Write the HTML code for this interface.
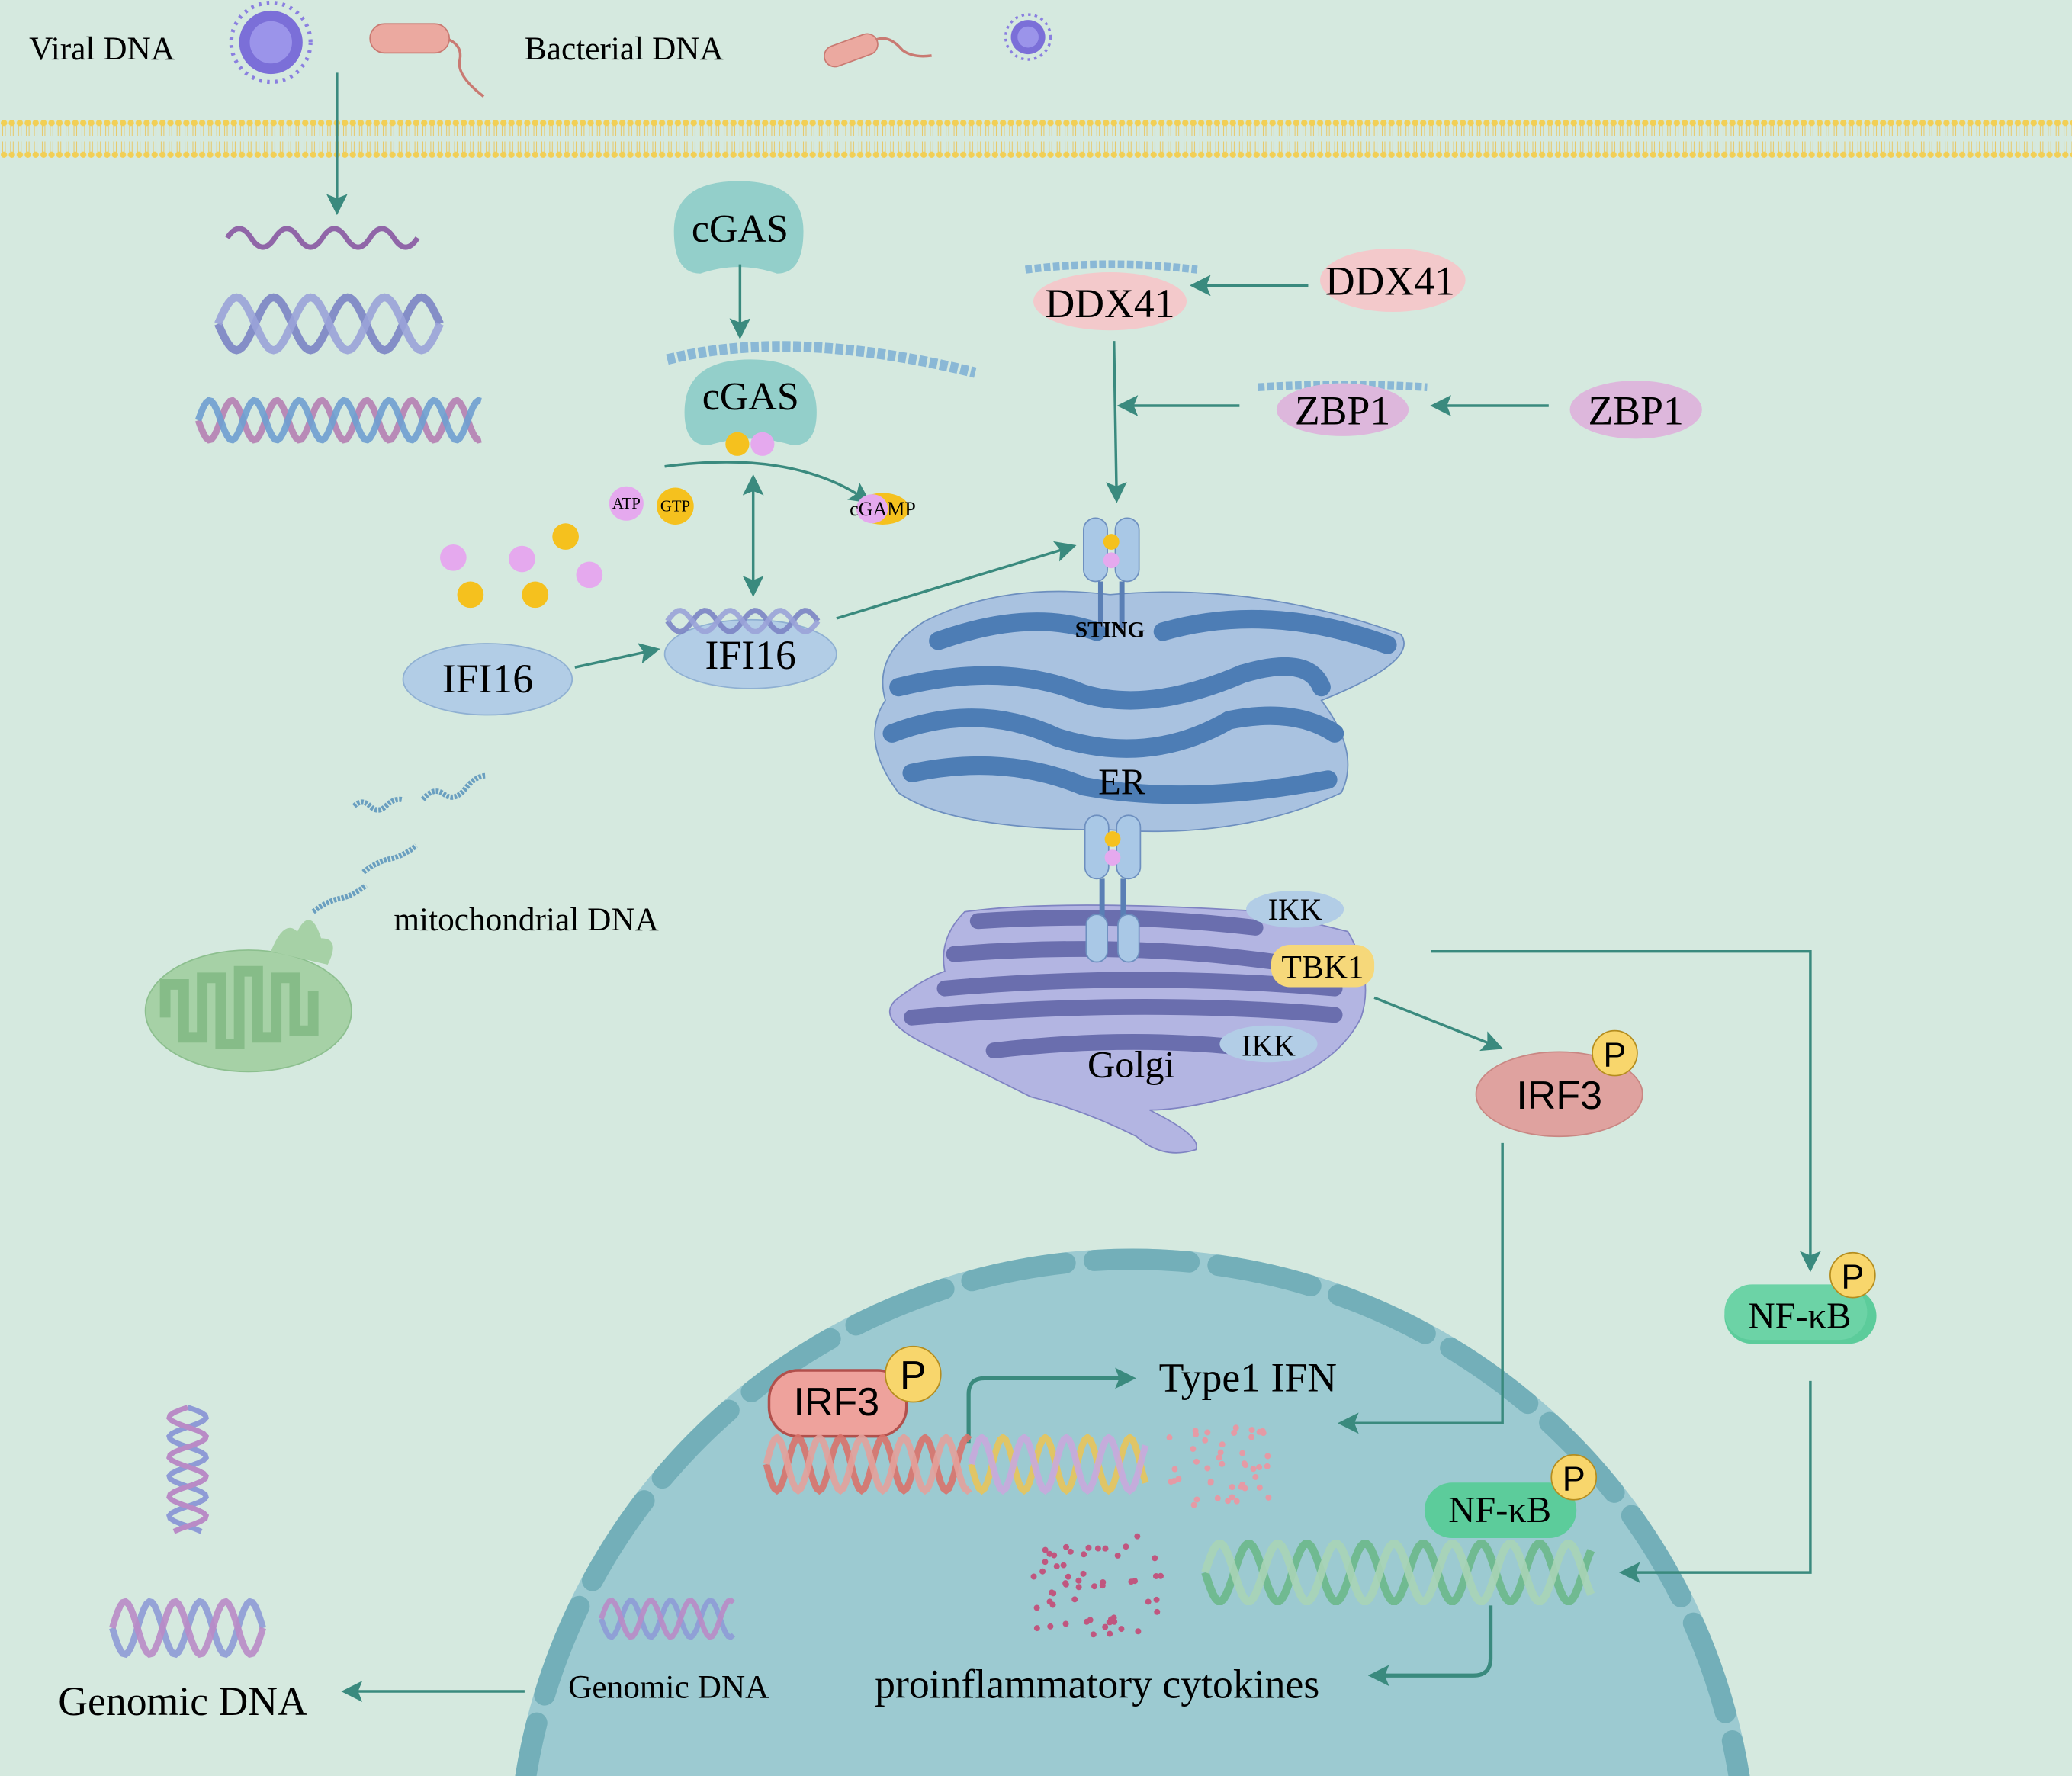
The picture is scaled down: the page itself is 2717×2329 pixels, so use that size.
<!DOCTYPE html>
<html><head><meta charset="utf-8"><style>
html,body{margin:0;padding:0;background:#d5e9df;overflow:hidden;width:2717px;height:2329px;}
svg{display:block;font-family:"Liberation Serif",serif;}
</style></head><body>
<svg id="s" width="2717" height="2329" viewBox="0 0 1568 1344" xmlns="http://www.w3.org/2000/svg">
<defs>
<marker id="ab" viewBox="0 0 10 10" markerWidth="16" markerHeight="16" refX="7" refY="5" orient="auto" markerUnits="userSpaceOnUse"><path d="M0,0 L10,5 L0,10 L2,5 Z" fill="#3a8a7e"/></marker>
<marker id="as" viewBox="0 0 10 10" markerWidth="16" markerHeight="16" refX="3" refY="5" orient="auto-start-reverse" markerUnits="userSpaceOnUse"><path d="M0,0 L10,5 L0,10 L2,5 Z" fill="#3a8a7e"/></marker>
<pattern id="mem" width="6" height="30" patternUnits="userSpaceOnUse"><circle cx="3" cy="3" r="2.4" fill="#f2cf55"/><circle cx="3" cy="27" r="2.4" fill="#f2cf55"/><line x1="2" y1="5" x2="2" y2="13" stroke="#e7c96a" stroke-width="0.6"/><line x1="4" y1="5" x2="4" y2="13" stroke="#e7c96a" stroke-width="0.6"/><line x1="2" y1="17" x2="2" y2="25" stroke="#e7c96a" stroke-width="0.6"/><line x1="4" y1="17" x2="4" y2="25" stroke="#e7c96a" stroke-width="0.6"/></pattern>
</defs>
<rect width="1568" height="1344" fill="#d5e9df"/>
<rect x="0" y="90" width="1568" height="30" fill="url(#mem)"/>

<!-- nucleus -->
<circle cx="857" cy="1418" r="473" fill="#9ccad1"/>
<circle cx="857" cy="1418" r="465" fill="none" stroke="#73afb9" stroke-width="16" stroke-dasharray="72 22" stroke-linecap="round"/>

<!-- top labels -->
<text x="22" y="45" font-size="25">Viral DNA</text>
<text x="397" y="45" font-size="25">Bacterial DNA</text>
<circle cx="205" cy="32" r="30" fill="none" stroke="#8a7fe0" stroke-width="3" stroke-dasharray="2 4"/>
<circle cx="205" cy="32" r="24" fill="#7b6fd8"/><circle cx="205" cy="32" r="16" fill="#9b94ea"/>
<circle cx="778" cy="28" r="17" fill="none" stroke="#8a7fe0" stroke-width="2" stroke-dasharray="2 3"/>
<circle cx="778" cy="28" r="13" fill="#7b6fd8"/><circle cx="778" cy="28" r="8" fill="#9b94ea"/>
<rect x="280" y="18" width="60" height="22" rx="11" fill="#eba9a0" stroke="#c97a72"/><path d="M340,30 q10,5 8,15 q-3,12 18,28" fill="none" stroke="#c97a72" stroke-width="2"/>
<rect x="623" y="30" width="42" height="16" rx="8" fill="#eba9a0" stroke="#c97a72" transform="rotate(-20 644 38)"/><path d="M663,30 q10,-4 20,8 q8,6 22,4" fill="none" stroke="#c97a72" stroke-width="2"/>

<line x1="255" y1="55" x2="255" y2="158" stroke="#3a8a7e" stroke-width="2" marker-end="url(#ab)"/>
<path d="M172,180 q9,-14 18,0 t18,0 t18,0 t18,0 t18,0 t18,0 t18,0 t18,0" fill="none" stroke="#9066a8" stroke-width="4"/>

<!-- cGAS -->
<path d="M510,175 q0,-38 49,-38 q49,0 49,38 q0,32 -20,32 q-29,-10 -58,0 q-20,0 -20,-32z" fill="#93cfca"/>
<text x="560" y="183" font-size="30" text-anchor="middle">cGAS</text>
<line x1="560" y1="200" x2="560" y2="252" stroke="#3a8a7e" stroke-width="2" marker-end="url(#ab)"/>
<path d="M505,272 Q600,248 738,282" fill="none" stroke="#8ab8d6" stroke-width="8" stroke-dasharray="6 2"/>
<path d="M518,312 q0,-40 50,-40 q50,0 50,40 q0,25 -18,25 q-32,-10 -64,0 q-18,0 -18,-25z" fill="#93cfca"/>
<text x="568" y="310" font-size="30" text-anchor="middle">cGAS</text>
<circle cx="558" cy="336" r="9" fill="#f5c11e"/><circle cx="577" cy="336" r="9" fill="#e5a9ee"/>
<path d="M503,353 Q600,340 655,378" fill="none" stroke="#3a8a7e" stroke-width="2" marker-end="url(#ab)"/>
<circle cx="474" cy="381" r="13" fill="#e5a9ee"/><text x="474" y="385" font-size="12" text-anchor="middle">ATP</text>
<circle cx="511" cy="383" r="14" fill="#f5c11e"/><text x="511" y="387" font-size="12" text-anchor="middle">GTP</text>
<ellipse cx="668" cy="385" rx="20" ry="12" fill="#f5c11e"/><ellipse cx="660" cy="385" rx="12" ry="11" fill="#e5a9ee"/>
<text x="668" y="390" font-size="15" text-anchor="middle">cGAMP</text>
<line x1="570" y1="370" x2="570" y2="447" stroke="#3a8a7e" stroke-width="2" marker-start="url(#as)" marker-end="url(#ab)"/>
<circle cx="343" cy="422" r="10" fill="#e5a9ee"/><circle cx="395" cy="423" r="10" fill="#e5a9ee"/><circle cx="446" cy="435" r="10" fill="#e5a9ee"/>
<circle cx="428" cy="406" r="10" fill="#f5c11e"/><circle cx="356" cy="450" r="10" fill="#f5c11e"/><circle cx="405" cy="450" r="10" fill="#f5c11e"/>

<!-- IFI16 -->
<ellipse cx="369" cy="514" rx="64" ry="27" fill="#b2cde6" stroke="#8fb0d2"/>
<text x="369" y="524" font-size="31" text-anchor="middle">IFI16</text>
<line x1="435" y1="505" x2="495" y2="492" stroke="#3a8a7e" stroke-width="2" marker-end="url(#ab)"/>
<ellipse cx="568" cy="495" rx="65" ry="26" fill="#b2cde6" stroke="#8fb0d2"/>
<text x="568" y="506" font-size="31" text-anchor="middle">IFI16</text>
<line x1="633" y1="468" x2="810" y2="414" stroke="#3a8a7e" stroke-width="2" marker-end="url(#ab)"/>

<!-- DDX41 / ZBP1 -->
<path d="M776,204 q64,-8 130,0" fill="none" stroke="#8ab8d6" stroke-width="6" stroke-dasharray="5 2"/>
<ellipse cx="840" cy="228" rx="58" ry="22" fill="#f3c9cb"/>
<text x="840" y="240" font-size="31" text-anchor="middle">DDX41</text>
<line x1="990" y1="216" x2="905" y2="216" stroke="#3a8a7e" stroke-width="2" marker-end="url(#ab)"/>
<ellipse cx="1054" cy="212" rx="55" ry="24" fill="#f3c9cb"/>
<text x="1052" y="223" font-size="31" text-anchor="middle">DDX41</text>
<path d="M952,293 q64,-4 128,0" fill="none" stroke="#8ab8d6" stroke-width="6" stroke-dasharray="5 2"/>
<ellipse cx="1016" cy="310" rx="50" ry="20" fill="#ddb7dc"/>
<text x="1016" y="321" font-size="31" text-anchor="middle">ZBP1</text>
<line x1="938" y1="307" x2="850" y2="307" stroke="#3a8a7e" stroke-width="2" marker-end="url(#ab)"/>
<line x1="1172" y1="307" x2="1087" y2="307" stroke="#3a8a7e" stroke-width="2" marker-end="url(#ab)"/>
<ellipse cx="1238" cy="310" rx="50" ry="22" fill="#ddb7dc"/>
<text x="1238" y="321" font-size="31" text-anchor="middle">ZBP1</text>
<line x1="843" y1="258" x2="845" y2="376" stroke="#3a8a7e" stroke-width="2" marker-end="url(#ab)"/>

<!-- ER -->
<path d="M700,470 Q760,440 840,450 Q950,440 1060,480 Q1075,500 1000,530 Q1030,570 1015,600 Q940,635 840,628 Q720,628 680,600 Q650,560 670,530 Q660,495 700,470Z" fill="#a9c2e0" stroke="#6d8fbf"/>
<g fill="none" stroke="#4d7db5" stroke-width="14" stroke-linecap="round">
<path d="M710,485 Q780,460 830,478"/><path d="M880,478 Q960,455 1050,488"/>
<path d="M680,520 Q760,500 820,525 Q870,540 940,510 Q990,495 1000,520"/>
<path d="M675,555 Q740,530 800,558 Q870,580 930,545 Q980,535 1010,555"/>
<path d="M690,585 Q760,570 820,595 Q900,610 1005,590"/>
</g>
<text x="849" y="601" font-size="28" text-anchor="middle">ER</text>

<!-- Golgi -->
<path d="M730,690 Q800,680 960,690 L1020,705 Q1040,740 1030,770 Q1010,810 950,825 Q900,840 870,840 Q910,860 905,870 Q880,878 860,860 Q820,840 780,830 Q740,810 700,790 Q660,770 680,755 Q700,740 715,735 Q710,710 730,690Z" fill="#b3b5e2" stroke="#7f83c2"/>
<g fill="none" stroke="#6a6eae" stroke-width="12" stroke-linecap="round">
<path d="M740,697 Q850,690 950,702"/><path d="M722,722 Q850,712 965,728"/>
<path d="M715,748 Q860,735 1010,748"/><path d="M690,770 Q860,755 1010,768"/>
<path d="M752,795 Q860,782 960,795"/>
</g>
<text x="856" y="815" font-size="29" text-anchor="middle">Golgi</text>
<ellipse cx="980" cy="688" rx="37" ry="14" fill="#b2cde6"/><text x="980" y="696" font-size="23" text-anchor="middle">IKK</text>
<rect x="962" y="715" width="78" height="32" rx="14" fill="#f6d87a"/><text x="1001" y="740" font-size="25" text-anchor="middle">TBK1</text>
<ellipse cx="960" cy="790" rx="37" ry="14" fill="#b2cde6"/><text x="960" y="799" font-size="23" text-anchor="middle">IKK</text>

<!-- IRF3 cytosol -->
<line x1="1040" y1="755" x2="1133" y2="792" stroke="#3a8a7e" stroke-width="2" marker-end="url(#ab)"/>
<ellipse cx="1180" cy="828" rx="63" ry="32" fill="#dfa29f" stroke="#c98783"/>
<text x="1180" y="839" font-size="30" text-anchor="middle" font-family="Liberation Sans,sans-serif">IRF3</text>
<circle cx="1222" cy="797" r="17" fill="#f8d66c" stroke="#b58d1e"/><text x="1222" y="807" font-size="26" text-anchor="middle" font-family="Liberation Sans,sans-serif">P</text>
<polyline points="1083,720 1370,720 1370,958" fill="none" stroke="#3a8a7e" stroke-width="2" marker-end="url(#ab)"/>
<rect x="1305" y="975" width="115" height="42" rx="21" fill="#5ccc9b"/><rect x="1305" y="972" width="108" height="42" rx="21" fill="#6cd3a6"/>
<text x="1362" y="1005" font-size="28" text-anchor="middle">NF-κB</text>
<circle cx="1402" cy="965" r="17" fill="#f8d66c" stroke="#b58d1e"/><text x="1402" y="975" font-size="26" text-anchor="middle" font-family="Liberation Sans,sans-serif">P</text>
<polyline points="1137,865 1137,1077 1017,1077" fill="none" stroke="#3a8a7e" stroke-width="2" marker-end="url(#ab)"/>
<polyline points="1370,1045 1370,1190 1230,1190" fill="none" stroke="#3a8a7e" stroke-width="2" marker-end="url(#ab)"/>

<!-- nucleus content -->
<rect x="582" y="1037" width="104" height="50" rx="22" fill="#eea29c" stroke="#b2504c" stroke-width="2"/>
<text x="633" y="1071" font-size="30" text-anchor="middle" font-family="Liberation Sans,sans-serif">IRF3</text>
<circle cx="691" cy="1040" r="21" fill="#f8d66c" stroke="#b58d1e"/><text x="691" y="1051" font-size="30" text-anchor="middle" font-family="Liberation Sans,sans-serif">P</text>
<path d="M733,1092 V1055 Q733,1043 745,1043 H855" fill="none" stroke="#3a8a7e" stroke-width="3" marker-end="url(#ab)"/>
<text x="877" y="1053" font-size="31">Type1 IFN</text>
<rect x="1078" y="1122" width="115" height="42" rx="21" fill="#5ccc9b"/>
<text x="1135" y="1152" font-size="28" text-anchor="middle">NF-κB</text>
<circle cx="1191" cy="1118" r="17" fill="#f8d66c" stroke="#b58d1e"/><text x="1191" y="1128" font-size="26" text-anchor="middle" font-family="Liberation Sans,sans-serif">P</text>
<path d="M1128,1215 V1255 Q1128,1268 1115,1268 H1040" fill="none" stroke="#3a8a7e" stroke-width="3" marker-end="url(#ab)"/>
<text x="662" y="1285" font-size="31">proinflammatory cytokines</text>
<text x="430" y="1285" font-size="25">Genomic DNA</text>
<text x="44" y="1298" font-size="31">Genomic DNA</text>
<line x1="397" y1="1280" x2="263" y2="1280" stroke="#3a8a7e" stroke-width="2" marker-end="url(#ab)"/>

<!-- mito -->
<path d="M268,610 q6,-6 12,0 t12,0 t12,-5" fill="none" stroke="#6a9fc0" stroke-width="4" stroke-dasharray="2 1"/>
<path d="M320,605 q8,-10 16,-4 t16,-4 t16,-10" fill="none" stroke="#6a9fc0" stroke-width="4" stroke-dasharray="2 1"/>
<path d="M275,660 q10,-8 20,-10 t20,-10" fill="none" stroke="#6a9fc0" stroke-width="4" stroke-dasharray="2 1"/>
<path d="M237,690 q10,-8 20,-10 t20,-10" fill="none" stroke="#6a9fc0" stroke-width="4" stroke-dasharray="2 1"/>
<ellipse cx="188" cy="765" rx="78" ry="46" fill="#a6d1a6" stroke="#8cbf8e"/>
<path d="M125,770 v-25 h14 v40 h14 v-45 h14 v50 h14 v-55 h14 v50 h14 v-45 h14 v40 h14 v-30" fill="none" stroke="#86bc88" stroke-width="8"/>
<path d="M205,720 q10,-25 20,-15 q10,-20 18,5 q15,0 5,20" fill="#a6d1a6"/>
<text x="298" y="704" font-size="25">mitochondrial DNA</text>
</svg>
<script>
var NS="http://www.w3.org/2000/svg";
function el(p,t,a){var e=document.createElementNS(NS,t);for(var k in a)e.setAttribute(k,a[k]);p.appendChild(e);return e;}
var s=document.getElementById('s');
function helix(x0,x1,y,amp,per,c1,c2,w){
 var g=el(s,'g',{});
 [0,Math.PI].forEach(function(ph,i){
  var d="";for(var x=0;x<=x1-x0;x+=2){var yy=y+amp*Math.sin(x/per*2*Math.PI+ph);d+=(x?"L":"M")+(x0+x)+","+yy;}
  el(g,'path',{d:d,fill:'none',stroke:i?c2:c1,'stroke-width':w,opacity:0.9});
 });
}
helix(165,333,245,20,56,'#7b84c4','#9aa3d8',6);
helix(150,365,318,15,34,'#b57fb2','#6f9fd0',5);
helix(505,620,470,8,38,'#7b84c4','#9aa3d8',4);
helix(580,735,1108,20,32,'#d9726a','#e3a19b',5);
helix(735,868,1108,20,32,'#e8c45a','#c9a8dc',5);
helix(912,1205,1190,22,44,'#6cb88a','#a8d4b6',6);
helix(455,555,1225,14,30,'#8e9bd6','#b98bc6',4);
helix(85,200,1232,20,38,'#8e9bd6','#b98bc6',5);
(function(){var g=el(s,'g',{});[0,Math.PI].forEach(function(ph,i){var d="";for(var y=0;y<=95;y+=2){var x=142+14*Math.sin(y/30*2*Math.PI+ph);d+=(y?"L":"M")+x+","+(1065+y);}el(g,'path',{d:d,fill:'none',stroke:i?'#b98bc6':'#8e9bd6','stroke-width':4});});})();
function sting(cx,cy,stems){
 var g=el(s,'g',{});
 el(g,'rect',{x:cx-21,y:cy-28,width:18,height:48,rx:9,fill:'#a9c8e6',stroke:'#6d8fbf'});
 el(g,'rect',{x:cx+3,y:cy-28,width:18,height:48,rx:9,fill:'#a9c8e6',stroke:'#6d8fbf'});
 el(g,'circle',{cx:cx,cy:cy-10,r:6,fill:'#f5c11e'});
 el(g,'circle',{cx:cx,cy:cy+4,r:6,fill:'#e5a9ee'});
 el(g,'line',{x1:cx-8,y1:cy+20,x2:cx-8,y2:cy+stems,stroke:'#5a7fb5','stroke-width':4});
 el(g,'line',{x1:cx+8,y1:cy+20,x2:cx+8,y2:cy+stems,stroke:'#5a7fb5','stroke-width':4});
}
sting(841,420,55);
el(s,'text',{x:840,y:482,'font-size':17,'font-weight':'bold','text-anchor':'middle'}).textContent='STING';
sting(842,645,55);
var g2=el(s,'g',{});
el(g2,'rect',{x:822,y:692,width:16,height:36,rx:8,fill:'#a9c8e6',stroke:'#6d8fbf'});
el(g2,'rect',{x:846,y:692,width:16,height:36,rx:8,fill:'#a9c8e6',stroke:'#6d8fbf'});
var r=1;function rnd(){r=(r*16807)%2147483647;return r/2147483647;}
for(var i=0;i<45;i++){el(s,'circle',{cx:885+rnd()*75,cy:1080+rnd()*60,r:2.3,fill:'#e59aa5'});}
for(var i=0;i<55;i++){el(s,'circle',{cx:782+rnd()*98,cy:1160+rnd()*80,r:2.3,fill:'#c0567f'});}
</script>
</body></html>
